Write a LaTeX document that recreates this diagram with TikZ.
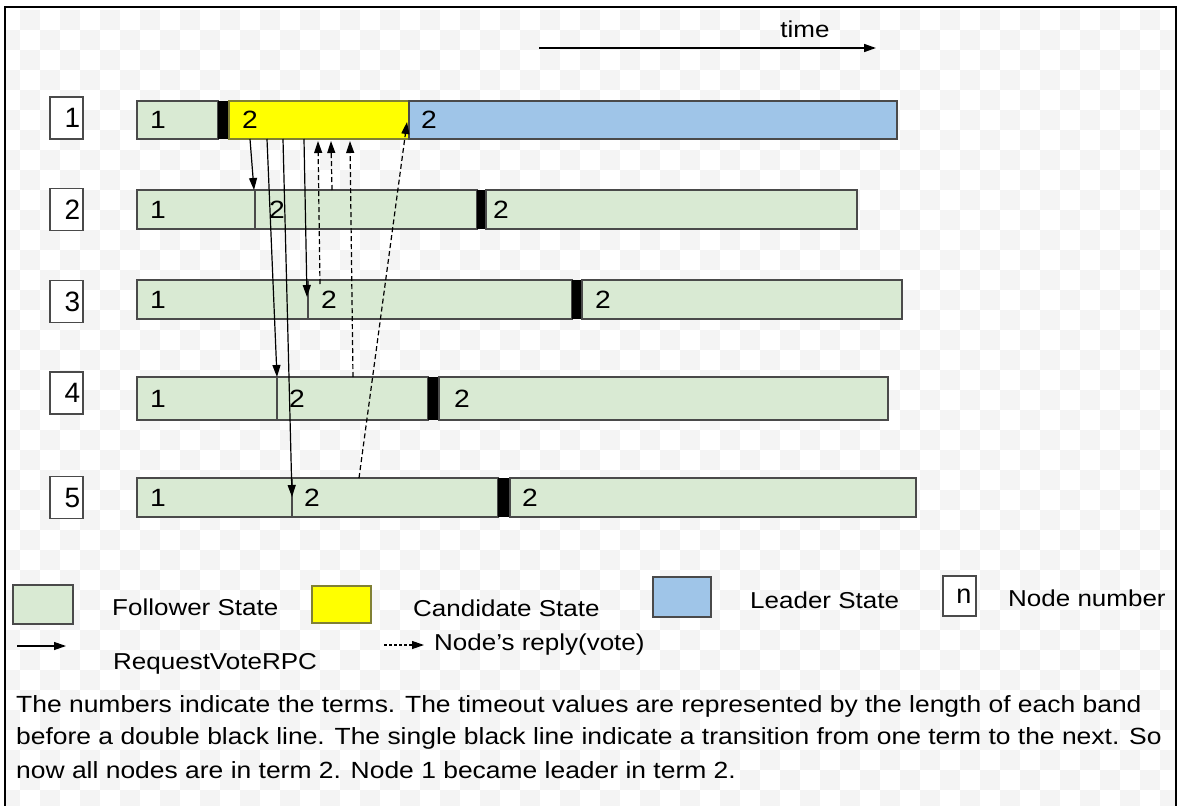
\documentclass[tikz,border=0pt]{standalone}
\usepackage{fontspec}
\setmainfont{Liberation Sans}
\newfontfamily\lab[FakeStretch=1.13]{Liberation Sans}
\usetikzlibrary{arrows.meta}
\definecolor{follower}{HTML}{D9EAD3}
\definecolor{candidate}{HTML}{FFFF00}
\definecolor{leader}{HTML}{9FC5E8}
\definecolor{edge}{HTML}{4A4A4A}
\definecolor{checker}{HTML}{F4F4F4}
\begin{document}
\begin{tikzpicture}[x=1pt,y=-1pt,
  band/.style={draw=edge, line width=1.2pt},
  cut/.style={fill=black},
  term/.style={font=\lab\fontsize{25}{25}\selectfont, inner sep=0pt},
  idbox/.style={draw=edge, line width=1.2pt, fill=white, minimum width=33pt,
    minimum height=42pt, inner sep=0pt, font=\fontsize{28}{28}\selectfont},
  rpc/.style={line width=1.2pt, -{Triangle[length=12pt,width=8pt]}},
  vote/.style={rpc, dash pattern=on 5pt off 3pt},
  legtext/.style={font=\lab\fontsize{23}{23}\selectfont, anchor=west, inner sep=0pt},
  para/.style={font=\lab\fontsize{23.4}{23.4}\selectfont, anchor=west, inner sep=0pt},
]
\useasboundingbox (0,0) rectangle (1179,806);
\fill[white] (0,0) rectangle (1179,806);

% faint checkered backdrop
\begin{scope}
\clip (5,7) rectangle (1176,806);
\foreach \cx in {0,40,...,1160} {
  \foreach \cy in {0,40,...,800} {
    \fill[checker] (\cx+20,\cy+10) rectangle ++(20,20);
    \fill[checker] (\cx,\cy+30) rectangle ++(20,20);
  }
}
\end{scope}

% frame
\draw[line width=2.5pt] (5,810) -- (5,7) -- (1176,7) -- (1176,810);

% time axis
\node[font=\lab\fontsize{23}{23}\selectfont, inner sep=0pt] (timelbl) at (805,29) {time};
\coordinate (t0) at (539,48);
\coordinate (t1) at (876,48);
\draw[line width=1.6pt, -{Triangle[length=12pt,width=8pt]}] (t0) -- (t1);

% node number boxes (digit set a little right of centre)
\node[idbox] (id1) at (66.5,118) {\hspace*{12pt}1};
\node[idbox] (id2) at (66.5,209.5) {\hspace*{12pt}2};
\node[idbox] (id3) at (66.5,301.5) {\hspace*{12pt}3};
\node[idbox] (id4) at (66.5,393) {\hspace*{12pt}4};
\node[idbox] (id5) at (66.5,497.5) {\hspace*{12pt}5};

% node 1 timeline
\filldraw[band, fill=follower] (137,101) rectangle (218,139);
\fill[cut] (218,101) rectangle (229,139);
\filldraw[band, fill=candidate, draw=edge!70!candidate] (229,101) rectangle (409,139);
\filldraw[band, fill=leader] (409,101) rectangle (897,139);
\node[term] (a1) at (158,120) {1};
\node[term] (a2) at (250,120) {2};
\node[term] (a3) at (429,120) {2};

% node 2 timeline
\filldraw[band, fill=follower] (137,190) rectangle (477,229);
\draw[band] (255,190) -- (255,229);
\fill[cut] (477,190) rectangle (486,229);
\filldraw[band, fill=follower] (486,190) rectangle (857,229);
\node[term] (b1) at (158,209.5) {1};
\node[term] (b2) at (277,209.5) {2};
\node[term] (b3) at (501,209.5) {2};

% node 3 timeline
\filldraw[band, fill=follower] (137,280) rectangle (572,319);
\draw[band] (308,280) -- (308,319);
\fill[cut] (572,280) rectangle (582,319);
\filldraw[band, fill=follower] (582,280) rectangle (902,319);
\node[term] (c1) at (158,299.5) {1};
\node[term] (c2) at (329,299.5) {2};
\node[term] (c3) at (603,299.5) {2};

% node 4 timeline
\filldraw[band, fill=follower] (137,377) rectangle (428,420);
\draw[band] (277,377) -- (277,420);
\fill[cut] (428,377) rectangle (439,420);
\filldraw[band, fill=follower] (439,377) rectangle (888,420);
\node[term] (d1) at (158,398.5) {1};
\node[term] (d2) at (297,398.5) {2};
\node[term] (d3) at (462,398.5) {2};

% node 5 timeline
\filldraw[band, fill=follower] (137,478) rectangle (292,517);
\filldraw[band, fill=follower] (292,478) rectangle (498,517);
\fill[cut] (498,478) rectangle (510,517);
\filldraw[band, fill=follower] (510,478) rectangle (916,517);
\node[term] (e1) at (158,497.5) {1};
\node[term] (e2) at (312,497.5) {2};
\node[term] (e3) at (530,497.5) {2};

% RequestVote calls sent by the candidate
\coordinate (rq2s) at (250,139);
\coordinate (rq2t) at (254,190);
\coordinate (rq4s) at (267,139);
\coordinate (rq4t) at (277,377);
\coordinate (rq5s) at (283,139);
\coordinate (rq5t) at (292,497);
\coordinate (rq3s) at (304,139);
\coordinate (rq3t) at (307,297);
\draw[rpc] (rq2s) -- (rq2t);
\draw[rpc] (rq4s) -- (rq4t);
\draw[rpc] (rq5s) -- (rq5t);
\draw[rpc] (rq3s) -- (rq3t);

% votes returned to the candidate
\coordinate (vt3s) at (320,284);
\coordinate (vt3t) at (318,141);
\coordinate (vt2s) at (332,190);
\coordinate (vt2t) at (331,141);
\coordinate (vt4s) at (353,377);
\coordinate (vt4t) at (350,141);
\coordinate (vt5s) at (359,478);
\coordinate (vt5t) at (407,122);
\draw[vote] (vt3s) -- (vt3t);
\draw[vote] (vt2s) -- (vt2t);
\draw[vote] (vt4s) -- (vt4t);
\draw[vote] (vt5s) -- (vt5t);

% legend
\filldraw[band, fill=follower] (13,585) rectangle (73,624);
\node[legtext] (kf) at (112,607) {Follower State};
\filldraw[band, fill=candidate, draw=edge!70!candidate] (312,586) rectangle (371,623);
\node[legtext] (kc) at (413,608) {Candidate State};
\filldraw[band, fill=leader] (653,577) rectangle (711,617);
\node[legtext] (kl) at (750,600) {Leader State};
\node[idbox, minimum height=40pt, font=\fontsize{27}{27}\selectfont] (kn) at (959.5,596) {\hspace*{9pt}n};
\node[legtext] (knl) at (1008,598) {Node number};

\coordinate (kr0) at (17,646);
\coordinate (kr1) at (66,646);
\draw[rpc] (kr0) -- (kr1);
\node[legtext] (krl) at (113,664) {RequestVoteRPC};
\coordinate (kv0) at (384,645);
\coordinate (kv1) at (424,645);
\draw[vote, dash pattern=on 3pt off 2pt] (kv0) -- (kv1);
\node[legtext] (kvl) at (434,645) {Node’s reply(vote)};

% explanation
\node[para] (p1) at (16,706) {The numbers indicate the terms. The timeout values are represented by the length of each band};
\node[para] (p2) at (16,738) {before a double black line. The single black line indicate a transition from one term to the next. So};
\node[para] (p3) at (16,770) {now all nodes are in term 2. Node 1 became leader in term 2.};
\end{tikzpicture}
\end{document}
